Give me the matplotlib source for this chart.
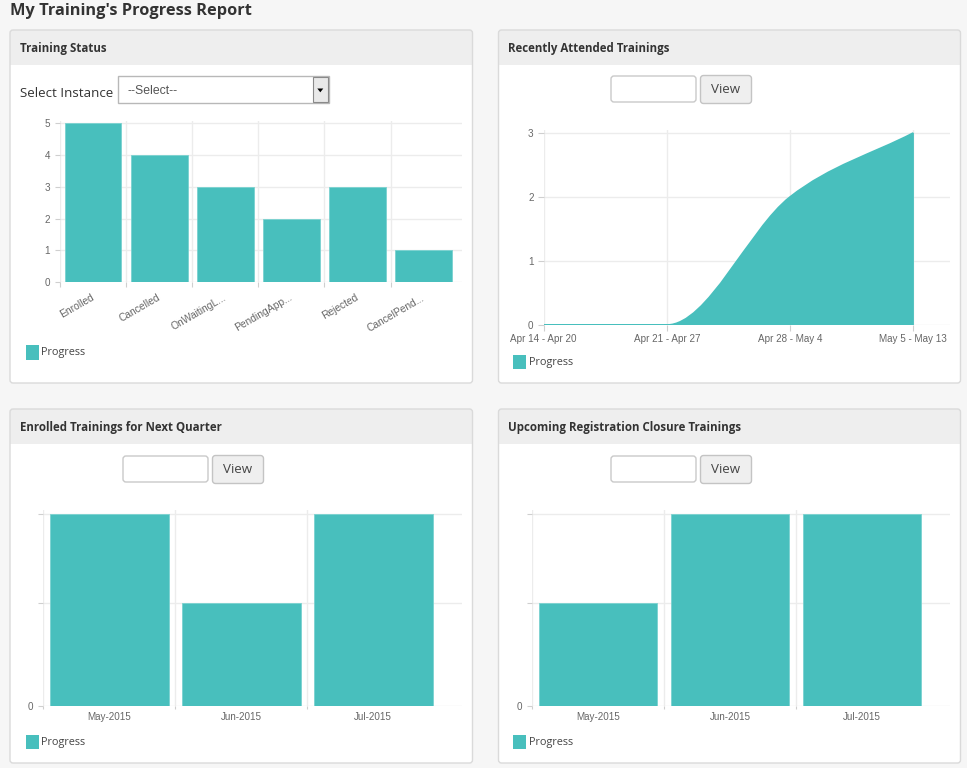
import numpy as np
import matplotlib
matplotlib.use("Agg")
import matplotlib.pyplot as plt
from matplotlib.patches import FancyBboxPatch, Rectangle, PathPatch, Polygon
from matplotlib.path import Path

W, H = 967, 768

page_title = "My Training's Progress Report"
legend_label = "Progress"

status_labels = ["Enrolled", "Cancelled", "OnWaitingL...", "PendingApp...", "Rejected", "CancelPend..."]
status_counts = [5, 4, 3, 2, 3, 1]

week_labels = ["Apr 14 - Apr 20", "Apr 21 - Apr 27", "Apr 28 - May 4", "May 5 - May 13"]
attended = [0, 0, 2, 3]

month_labels = ["May-2015", "Jun-2015", "Jul-2015"]
enrolled_next = [2, 1, 2]
closing_soon = [1, 2, 2]

TEAL = "#48bfbd"
TEAL_EDGE = "#7ad2d0"
GRID = "#ececec"
TICK_C = "#cfcfcf"
LABEL_C = "#666666"
DARK = "#333333"
UI_FONT = "Open Sans"
AX_FONT = "Liberation Sans"
FLOOR = -0.15  # bottom charts: the "0" line sits a bit below the bar scale


def px_axes(fig, x0, y0, x1, y1):
    # pixel box (top-left origin) -> figure axes
    return fig.add_axes([x0 / W, 1 - y1 / H, (x1 - x0) / W, (y1 - y0) / H])


def monotone_slopes(x, y):
    """Fritsch-Carlson tangents, so the smoothed area never overshoots."""
    x = np.asarray(x, float)
    y = np.asarray(y, float)
    d = np.diff(y) / np.diff(x)
    m = np.empty_like(y)
    m[0], m[-1] = d[0], d[-1]
    for i in range(1, len(y) - 1):
        m[i] = 0.0 if d[i - 1] * d[i] <= 0 else (d[i - 1] + d[i]) / 2
    return m


def smooth_area(x, y):
    m = monotone_slopes(x, y)
    verts = [(x[0], 0), (x[0], y[0])]
    codes = [Path.MOVETO, Path.LINETO]
    for i in range(len(x) - 1):
        h = (x[i + 1] - x[i]) / 3
        verts += [(x[i] + h, y[i] + m[i] * h),
                  (x[i + 1] - h, y[i + 1] - m[i + 1] * h),
                  (x[i + 1], y[i + 1])]
        codes += [Path.CURVE4] * 3
    verts += [(x[-1], 0), (x[0], 0)]
    codes += [Path.LINETO, Path.CLOSEPOLY]
    return Path(verts, codes)


def style_axes(ax):
    ax.set_facecolor("none")
    for s in ax.spines.values():
        s.set_visible(False)
    ax.tick_params(which="both", colors=TICK_C, labelcolor=LABEL_C, labelsize=7.1, width=0.8)
    for lab in ax.get_xticklabels() + ax.get_yticklabels():
        lab.set_fontfamily(AX_FONT)


fig = plt.figure(figsize=(W / 100, H / 100), dpi=100)
fig.patch.set_facecolor("#f6f6f6")

bg = fig.add_axes([0, 0, 1, 1])
bg.set_xlim(0, W)
bg.set_ylim(H, 0)
bg.axis("off")


def panel(x0, y0, x1, y1, title):
    bg.add_patch(FancyBboxPatch((x0, y0), x1 - x0, y1 - y0,
                                boxstyle="round,pad=0,rounding_size=3",
                                fc="white", ec="none"))
    bg.add_patch(FancyBboxPatch((x0, y0), x1 - x0, 35,
                                boxstyle="round,pad=0,rounding_size=3",
                                fc="#eeeeee", ec="none"))
    bg.add_patch(Rectangle((x0, y0 + 20), x1 - x0, 15, fc="#eeeeee", ec="none"))
    bg.add_patch(FancyBboxPatch((x0, y0), x1 - x0, y1 - y0,
                                boxstyle="round,pad=0,rounding_size=3",
                                fc="none", ec="#dadada", lw=1))
    bg.text(x0 + 10, y0 + 18.5, title, fontsize=8.3, fontweight="bold",
            family=UI_FONT, color=DARK, va="center", ha="left")


def view_controls(x0, y0):
    bg.add_patch(FancyBboxPatch((x0, y0), 85, 26, boxstyle="round,pad=0,rounding_size=3",
                                fc="white", ec="#c9c9c9", lw=1))
    bg.add_patch(FancyBboxPatch((x0 + 89.5, y0 - 0.5), 51, 28, boxstyle="round,pad=0,rounding_size=3",
                                fc="#efefef", ec="#c4c4c4", lw=1))
    bg.text(x0 + 115, y0 + 13.5, "View", fontsize=9.6, family=UI_FONT, color="#444444",
            ha="center", va="center")


def legend(x0, y0):
    bg.add_patch(Rectangle((x0, y0), 13, 14.5, fc=TEAL, ec="none"))
    bg.text(x0 + 15.5, y0 + 8, legend_label, fontsize=7.8, family=UI_FONT, color="#444444",
            ha="left", va="center")


bg.text(10, 11, page_title, fontsize=11.8, fontweight="bold", family=UI_FONT,
        color=DARK, ha="left", va="center")

panel(10, 30, 472.5, 383, "Training Status")
panel(498.5, 30, 960.5, 383, "Recently Attended Trainings")
panel(10, 409, 472.5, 763, "Enrolled Trainings for Next Quarter")
panel(498.5, 409, 960.5, 763, "Upcoming Registration Closure Trainings")

# dropdown in the first panel
bg.text(20, 93.5, "Select Instance", fontsize=9.6, family=UI_FONT, color=DARK, ha="left", va="center")
bg.add_patch(Rectangle((118, 76), 210.5, 27, fc="white", ec="#b8b8b8", lw=1))
bg.text(128, 90.5, "--Select--", fontsize=8.8, family=AX_FONT, color="#555555",
        ha="left", va="center")
bg.add_patch(Rectangle((312.5, 77), 15.5, 25, fc="#e9e9e9", ec="#8a8a8a", lw=0.8))
bg.add_patch(Polygon([(317.3, 88.5), (323.3, 88.5), (320.3, 92.3)], closed=True, fc="black", ec="none"))

view_controls(611, 76)
view_controls(123, 456)
view_controls(611, 456)

legend(26, 345)
legend(513, 354.5)
legend(26, 734.5)
legend(513, 734.5)

# --- Training Status: bars
ax1 = px_axes(fig, 60, 120.7, 462, 282.3)
x1 = np.arange(len(status_counts))
ax1.bar(x1, status_counts, width=0.86, color=TEAL, edgecolor=TEAL_EDGE, linewidth=0.6, zorder=3)
ax1.set_xlim(-0.5, 5.58)
ax1.set_ylim(0, 5.08)
ax1.set_yticks(range(0, 6))
ax1.set_xticks(x1)
ax1.set_xticklabels(status_labels, rotation=30, ha="right", va="center", rotation_mode="anchor")
ax1.set_xticks(np.arange(-0.5, len(status_counts) - 1), minor=True)
ax1.grid(True, axis="y", color=GRID, lw=1, zorder=0)
ax1.grid(True, axis="x", which="minor", color=GRID, lw=1, zorder=0)
style_axes(ax1)
ax1.tick_params(axis="x", which="major", length=0, pad=10.5, labelsize=7.4)
ax1.tick_params(axis="x", which="minor", length=3.6)
ax1.tick_params(axis="y", length=3.6, pad=3.5)

# --- Recently Attended: smooth area
ax2 = px_axes(fig, 543.7, 130, 950, 325)
x2 = np.arange(len(attended), dtype=float)
ax2.add_patch(PathPatch(smooth_area(x2, np.asarray(attended, float)), fc=TEAL, ec=TEAL, lw=1.2, zorder=3))
ax2.set_xlim(0, 3.3)
ax2.set_ylim(0, 3.047)
ax2.set_xticks(x2)
ax2.set_xticklabels(week_labels)
ax2.set_yticks(range(0, 4))
ax2.grid(True, color=GRID, lw=1, zorder=0)
style_axes(ax2)
ax2.tick_params(axis="x", length=4, pad=2.5)
ax2.tick_params(axis="y", length=4.3, pad=3)


def month_bars(ax, values):
    xm = np.arange(len(values))
    ax.bar(xm, np.asarray(values, float) - FLOOR, bottom=FLOOR, width=0.9,
           color=TEAL, edgecolor=TEAL_EDGE, linewidth=0.6, zorder=3)
    ax.set_xlim(-0.5, 2.67)
    ax.set_ylim(FLOOR, 2.045)
    ax.set_xticks(xm)
    ax.set_xticklabels(month_labels)
    ax.set_xticks(np.arange(-0.5, len(values) - 1), minor=True)
    ax.set_yticks([FLOOR, 1, 2])
    ax.set_yticklabels(["0", "", ""])
    ax.grid(True, axis="y", color=GRID, lw=1, zorder=0)
    ax.grid(True, axis="x", which="minor", color=GRID, lw=1, zorder=0)
    style_axes(ax)
    ax.tick_params(axis="x", which="major", length=0, pad=5)
    ax.tick_params(axis="x", which="minor", length=2.5)
    ax.tick_params(axis="y", length=3.6, pad=3.5)


ax3 = px_axes(fig, 43.3, 510, 461.7, 705.5)
month_bars(ax3, enrolled_next)

ax4 = px_axes(fig, 532, 510, 950.3, 705.5)
month_bars(ax4, closing_soon)

fig.savefig("out.png", dpi=100, facecolor=fig.get_facecolor())
